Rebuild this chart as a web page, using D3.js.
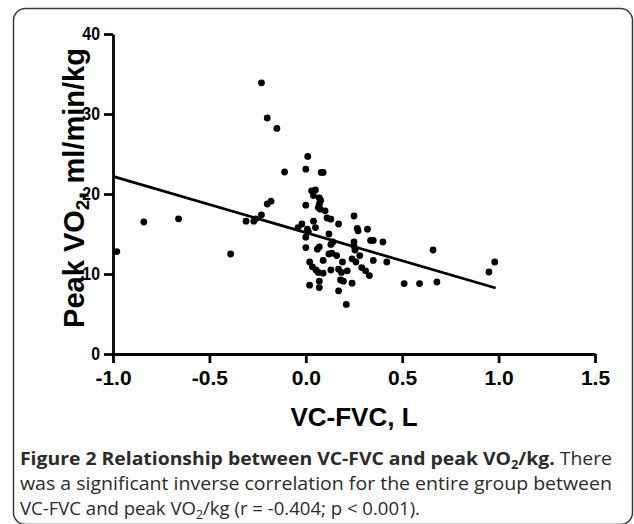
<!doctype html>
<html>
<head>
<meta charset="utf-8"/>
<title>VC-FVC vs peak VO2</title>
<script src="https://d3js.org/d3.v7.min.js"></script>
<style>
  body { margin: 0; background: #fff; }
  svg { display: block; }
</style>
</head>
<body>
<div id="grafico"></div>
<script>
// dados
var vcFvc = [-0.98, -0.84, -0.66, -0.39, -0.31, -0.27, -0.26, -0.23, -0.20, -0.18, -0.11, -0.23, -0.20, -0.15,
  0.01, 0.00, 0.08, 0.09, 0.03, 0.05, 0.04, 0.07, 0.07, 0.065, 0.075, 0.10, 0.00, 0.11, 0.13, 0.17,
  0.25, -0.02, -0.04, 0.04, 0.05, 0.008, 0.013, 0.00, 0.12, 0.13, 0.14, 0.267, 0.271, 0.32, 0.25,
  0.25, 0.255, 0.00, 0.06, 0.07, 0.12, 0.135, 0.16, 0.24, 0.26, 0.28, 0.02, 0.034, 0.09, 0.19,
  0.053, 0.065, 0.09, 0.13, 0.17, 0.185, 0.215, 0.18, 0.195, 0.24, 0.07, 0.07, 0.02, 0.17, 0.21,
  0.336, 0.35, 0.40, 0.35, 0.42, 0.29, 0.31, 0.33, 0.51, 0.59, 0.68, 0.66, 0.95, 0.98, 0.077];
var peakVo2 = [12.8, 16.5, 16.9, 12.5, 16.6, 16.6, 16.9, 17.4, 18.75, 19.1, 22.75, 33.9, 29.5, 28.2,
  24.7, 23.1, 22.7, 22.7, 20.4, 20.5, 19.8, 19.5, 18.75, 18.3, 18.1, 17.9, 18.6, 17.0, 16.85, 16.25,
  17.25, 16.25, 15.8, 16.6, 15.8, 15.6, 15.3, 14.6, 15.0, 13.7, 14.0, 15.7, 15.4, 15.6, 14.0,
  13.5, 13.0, 13.3, 13.1, 13.4, 12.5, 12.6, 12.3, 11.9, 11.5, 12.3, 11.5, 10.9, 11.7, 11.5,
  10.5, 10.2, 10.1, 10.5, 10.6, 10.2, 10.4, 9.25, 9.1, 8.85, 9.1, 8.3, 8.6, 7.9, 6.2,
  14.2, 14.2, 14.0, 11.7, 11.5, 10.8, 10.4, 9.8, 8.8, 8.8, 9.0, 13.0, 10.25, 11.5, 19.2];

// reta de regressao (pontos extremos)
var fitX = [-1.0, 0.985];
var fitY = [22.2, 8.25];

var xTicks = [-1.0, -0.5, 0.0, 0.5, 1.0, 1.5];
var yTicks = [0, 10, 20, 30, 40];

var svg = d3.select("#grafico")
  .append("svg")
  .attr("width", 634)
  .attr("height", 524);

// moldura arredondada
svg.append("rect")
  .attr("x", 13.5).attr("y", 8.5)
  .attr("width", 619).attr("height", 516)
  .attr("rx", 12)
  .attr("fill", "none")
  .attr("stroke", "#3a3a3a")
  .attr("stroke-width", 1.5);

var x = d3.scaleLinear().domain([-1, 1.5]).range([113, 595]);
var y = d3.scaleLinear().domain([0, 40]).range([354, 34]);

var fonte = "Liberation Sans, Arial, sans-serif";

// eixos
var eixoX = svg.append("g")
  .attr("transform", "translate(0," + y(0) + ")")
  .call(d3.axisBottom(x).tickValues(xTicks)
    .tickFormat(function(d) { return d3.format(".1f")(d).replace("\u2212", "-"); })
    .tickSize(9).tickPadding(7).tickSizeOuter(0));

var eixoY = svg.append("g")
  .attr("transform", "translate(" + x(-1) + ",0)")
  .call(d3.axisLeft(y).tickValues(yTicks).tickFormat(d3.format("d")).tickSize(9).tickPadding(4).tickSizeOuter(0));

svg.selectAll(".domain, .tick line")
  .attr("stroke", "#000")
  .attr("stroke-width", 2.8);

eixoX.selectAll("text")
  .attr("font-family", fonte)
  .attr("font-weight", "bold")
  .attr("font-size", 21)
  .attr("fill", "#000");

// rotulos do eixo y um pouco estreitos, como no original
eixoY.selectAll("text")
  .attr("font-family", fonte)
  .attr("font-weight", "bold")
  .attr("font-size", 18)
  .attr("fill", "#000")
  .each(function() {
    var w = this.getComputedTextLength();
    d3.select(this).attr("textLength", w * 0.88).attr("lengthAdjust", "spacingAndGlyphs");
  });

// reta ajustada
svg.append("line")
  .attr("x1", x(fitX[0])).attr("y1", y(fitY[0]))
  .attr("x2", x(fitX[1])).attr("y2", y(fitY[1]))
  .attr("stroke", "#000")
  .attr("stroke-width", 2.7);

// pontos
svg.selectAll("circle.pt")
  .data(vcFvc)
  .enter()
  .append("circle")
  .attr("class", "pt")
  .attr("cx", function(d) { return x(d); })
  .attr("cy", function(d, i) { return y(peakVo2[i]); })
  .attr("r", 3.4)
  .attr("fill", "#000");

// titulos dos eixos
var tituloY = svg.append("text")
  .attr("transform", "translate(84,188) rotate(-90)")
  .attr("text-anchor", "middle")
  .attr("font-family", fonte)
  .attr("font-weight", "bold")
  .attr("font-size", 29)
  .attr("fill", "#000");
tituloY.append("tspan").text("Peak VO");
tituloY.append("tspan").attr("font-size", 19).attr("dy", 5).text("2");
tituloY.append("tspan").attr("dy", -5).text(", ml/min/kg");

svg.append("text")
  .attr("x", 354).attr("y", 426)
  .attr("text-anchor", "middle")
  .attr("font-family", fonte)
  .attr("font-weight", "bold")
  .attr("font-size", 26)
  .attr("fill", "#000")
  .text("VC-FVC, L");

// legenda da figura
var corLegenda = "#2b2b2b";
var fonteLegenda = "Open Sans, Noto Sans, sans-serif";

var l1 = svg.append("text")
  .attr("x", 20).attr("y", 465)
  .attr("font-family", fonteLegenda)
  .attr("font-size", 18)
  .attr("fill", corLegenda)
  .attr("textLength", 592)
  .attr("lengthAdjust", "spacingAndGlyphs");
l1.append("tspan").attr("font-weight", "bold").text("Figure 2 Relationship between VC-FVC and peak VO");
l1.append("tspan").attr("font-weight", "bold").attr("font-size", 12).attr("dy", 4).text("2");
l1.append("tspan").attr("font-weight", "bold").attr("dy", -4).text("/kg.");
l1.append("tspan").text(" There");

svg.append("text")
  .attr("x", 20).attr("y", 490)
  .attr("font-family", fonteLegenda)
  .attr("font-size", 18)
  .attr("fill", corLegenda)
  .attr("textLength", 592)
  .attr("lengthAdjust", "spacingAndGlyphs")
  .text("was a significant inverse correlation for the entire group between");

var l3 = svg.append("text")
  .attr("x", 20).attr("y", 515)
  .attr("font-family", fonteLegenda)
  .attr("font-size", 18)
  .attr("fill", corLegenda)
  .attr("textLength", 400)
  .attr("lengthAdjust", "spacingAndGlyphs");
l3.append("tspan").text("VC-FVC and peak VO");
l3.append("tspan").attr("font-size", 12).attr("dy", 4).text("2");
l3.append("tspan").attr("dy", -4).text("/kg (r = -0.404; p < 0.001).");
</script>
</body>
</html>
